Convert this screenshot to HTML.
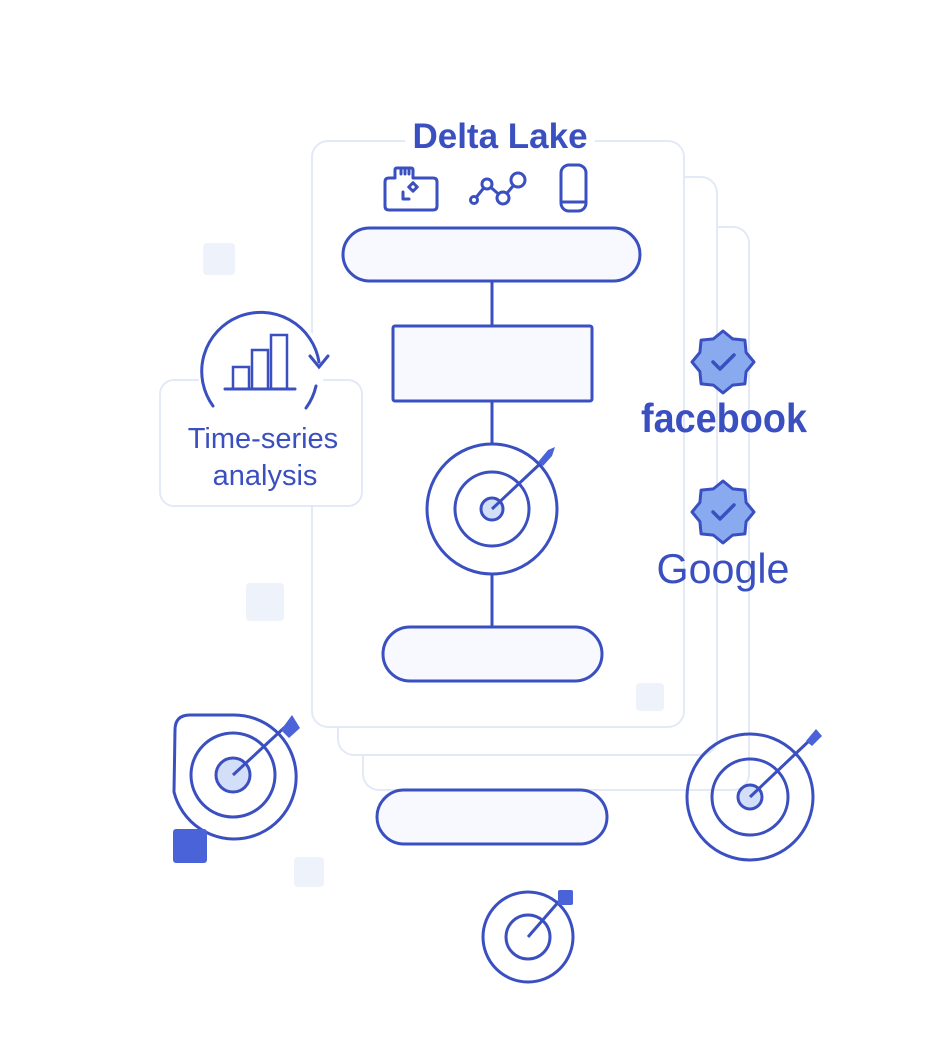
<!DOCTYPE html>
<html><head><meta charset="utf-8"><style>
html,body{margin:0;padding:0;background:#fff;}
svg{display:block;}
text{font-family:"Liberation Sans",sans-serif;fill:#3a4fc0;}
</style></head><body>
<svg width="942" height="1046" viewBox="0 0 942 1046" xmlns="http://www.w3.org/2000/svg">
<defs>
<g id="badge">
<polygon points="0,-31 9.6,-23.1 21.9,-21.9 23.1,-9.6 31,0 23.1,9.6 21.9,21.9 9.6,23.1 0,31 -9.6,23.1 -21.9,21.9 -23.1,9.6 -31,0 -23.1,-9.6 -21.9,-21.9 -9.6,-23.1" fill="#8aaaf0" stroke="#3a4fc0" stroke-width="3" stroke-linejoin="round"/>
<polyline points="-10,0 -3,7 11,-7" fill="none" stroke="#3a4fc0" stroke-width="3.5" stroke-linecap="round" stroke-linejoin="round"/>
</g>
</defs>
<g fill="#eef2fb">
<rect x="203" y="243" width="32" height="32" rx="4"/>
<rect x="246" y="583" width="38" height="38" rx="4"/>
<rect x="294" y="857" width="30" height="30" rx="4"/>
</g>
<g fill="#fff" stroke="#e4e9f8" stroke-width="2">
<rect x="363" y="227" width="386" height="563" rx="16"/>
<rect x="338" y="177" width="379" height="578" rx="16"/>
<rect x="312" y="141" width="372" height="586" rx="16"/>
</g>
<rect x="405" y="115" width="190" height="40" fill="#fff"/>
<text x="500" y="148" font-size="35" text-anchor="middle" font-weight="bold">Delta Lake</text>
<rect x="636" y="683" width="28" height="28" rx="4" fill="#eef2fb"/>
<g fill="none" stroke="#3a4fc0" stroke-width="3" stroke-linecap="round" stroke-linejoin="round">
<path d="M385 182 q0 -4 4 -4 h6 v-8 q0 -2 2 -2 h14 q2 0 2 2 v8 h20 q4 0 4 4 v24 q0 4 -4 4 h-44 q-4 0 -4 -4 z"/>
<path d="M401 174 v-5 M405 174 v-5 M409 174 v-5"/>
<path d="M403 192 v7 h6"/><rect x="410" y="184" width="6" height="6" transform="rotate(45 413 187)"/>
<polyline points="474,200 487,184 503,198 518,180"/>
<circle cx="474" cy="200" r="3.5" fill="#fff"/><circle cx="487" cy="184" r="5" fill="#fff"/><circle cx="503" cy="198" r="6" fill="#fff"/><circle cx="518" cy="180" r="7" fill="#fff"/>
<rect x="561" y="165" width="25" height="46" rx="8"/>
<path d="M561 202 h25"/>
</g>
<g stroke="#3a4fc0" stroke-width="3" fill="#f7f9fe">
<rect x="343" y="228" width="297" height="53" rx="26.5"/>
<line x1="492" y1="281" x2="492" y2="326"/>
<rect x="393" y="326" width="199" height="75" rx="2"/>
<line x1="492" y1="401" x2="492" y2="444"/>
<circle cx="492" cy="509" r="65" fill="#fff"/>
<circle cx="492" cy="509" r="37" fill="#fff"/>
<circle cx="492" cy="509" r="11" fill="#d3def8"/>
<line x1="492" y1="509" x2="543" y2="461"/>
<line x1="492" y1="574" x2="492" y2="627"/>
<rect x="383" y="627" width="219" height="54" rx="27"/>
<rect x="377" y="790" width="230" height="54" rx="27"/>
</g>
<polygon points="538,462 548,450 555,447 552,456 543,466" fill="#4a63d8"/>
<!-- time-series -->
<rect x="160" y="380" width="202" height="126" rx="14" fill="#fff" stroke="#e4e9f8" stroke-width="2"/>
<circle cx="261" cy="370" r="63" fill="#fff"/>
<g fill="none" stroke="#3a4fc0" stroke-width="3" stroke-linecap="round">
<path d="M213 406 A59 59 0 1 1 319 362"/>
<path d="M316 386 A59 59 0 0 1 306 408"/>
<polyline points="310,356 319,367 328,356"/>
<rect x="233" y="367" width="16" height="22" stroke-width="2.5"/>
<rect x="252" y="350" width="16" height="39" stroke-width="2.5"/>
<rect x="271" y="335" width="16" height="54" stroke-width="2.5"/>
<line x1="225" y1="389" x2="295" y2="389"/>
</g>
<text x="263" y="448" font-size="29" text-anchor="middle">Time-series</text>
<text x="265" y="485" font-size="29" text-anchor="middle">analysis</text>
<use href="#badge" transform="translate(723,362)"/>
<text x="724" y="432" font-size="41" font-weight="bold" text-anchor="middle" textLength="166" lengthAdjust="spacingAndGlyphs">facebook</text>
<use href="#badge" transform="translate(723,512)"/>
<text x="723" y="583" font-size="42" text-anchor="middle" textLength="133" lengthAdjust="spacingAndGlyphs">Google</text>
<g fill="none" stroke="#3a4fc0" stroke-width="3">
<path d="M175 730 q0 -15 15 -15 h43 a62 62 0 1 1 -59 77 z" fill="#fff"/>
<circle cx="233" cy="775" r="42"/>
<circle cx="233" cy="775" r="17" fill="#d3def8"/>
<line x1="233" y1="775" x2="286" y2="726"/>
</g>
<polygon points="281,730 292,715 300,728 289,738" fill="#4a63d8"/>
<rect x="173" y="829" width="34" height="34" rx="3" fill="#4a63d8"/>
<g fill="none" stroke="#3a4fc0" stroke-width="3">
<circle cx="750" cy="797" r="63"/>
<circle cx="750" cy="797" r="38"/>
<circle cx="750" cy="797" r="12" fill="#d3def8"/>
<line x1="750" y1="797" x2="810" y2="740"/>
</g>
<polygon points="806,741 816,729 822,736 812,746" fill="#4a63d8"/>
<g fill="none" stroke="#3a4fc0" stroke-width="3">
<circle cx="528" cy="937" r="45"/>
<circle cx="528" cy="937" r="22"/>
<line x1="528" y1="937" x2="561" y2="899"/>
</g>
<rect x="558" y="890" width="15" height="15" rx="2" fill="#4a63d8"/>
</svg>
</body></html>
